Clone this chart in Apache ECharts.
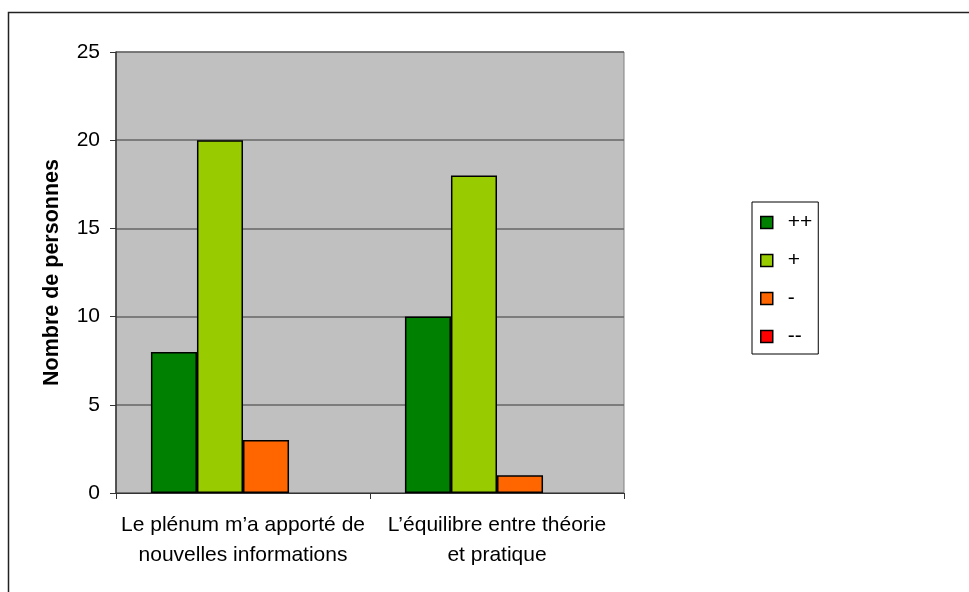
<!DOCTYPE html>
<html>
<head>
<meta charset="utf-8">
<script src="https://cdn.jsdelivr.net/npm/echarts@6/dist/echarts.min.js"></script>
<style>
  html, body { margin: 0; padding: 0; background: #fff; }
  #chart { width: 969px; height: 592px; }
</style>
</head>
<body>
<div id="chart"></div>
<script>
const categories = [
  'Le plénum m\u2019a apporté de\nnouvelles informations',
  'L\u2019équilibre entre théorie\net pratique'
]
const seriesNames = ['++', '+', '-', '--']
const seriesColors = ['#008000', '#99CC00', '#FF6600', '#FF0000']
const valuesPlusPlus = [8, 10]
const valuesPlus = [20, 18]
const valuesMinus = [3, 1]
const valuesMinusMinus = [0, 0]
const yTicks = { min: 0, max: 25, interval: 5 }

const chart = echarts.init(document.getElementById('chart'))
const font = 'Liberation Sans, Arial, sans-serif'

const seriesData = [valuesPlusPlus, valuesPlus, valuesMinus, valuesMinusMinus]

chart.setOption({
  animation: false,
  textStyle: { fontFamily: font },
  graphic: [
    {
      type: 'rect',
      shape: { x: 8.5, y: 12.5, width: 1000, height: 700 },
      style: { fill: 'none', stroke: '#222', lineWidth: 1.5 },
      silent: true
    }
  ],
  legend: {
    orient: 'vertical',
    left: 752,
    top: 202,
    data: seriesNames,
    itemWidth: 12,
    itemHeight: 12,
    itemGap: 17,
    padding: [10, 6, 7, 8],
    borderColor: '#000',
    borderWidth: 1,
    backgroundColor: '#fff',
    itemStyle: { borderColor: '#000', borderWidth: 1.5 },
    textStyle: { fontFamily: font, fontSize: 21, color: '#000', padding: [0, 0, 0, 10] },
    icon: 'rect'
  },
  grid: {
    left: 116,
    top: 52,
    width: 508,
    height: 441,
    show: true,
    backgroundColor: '#C0C0C0',
    borderColor: '#808080',
    borderWidth: 1
  },
  xAxis: {
    type: 'category',
    data: categories,
    axisLine: { lineStyle: { color: '#333', width: 1 } },
    axisTick: { show: true, interval: 0, length: 6, lineStyle: { color: '#333' } },
    axisLabel: {
      interval: 0,
      color: '#000',
      fontSize: 21,
      lineHeight: 30,
      margin: 17,
      fontFamily: font
    }
  },
  yAxis: {
    type: 'value',
    min: yTicks.min,
    max: yTicks.max,
    interval: yTicks.interval,
    name: 'Nombre de personnes',
    nameLocation: 'middle',
    nameGap: 53,
    nameTextStyle: { fontWeight: 'bold', fontSize: 21.5, color: '#000', fontFamily: font },
    axisLine: { show: true, lineStyle: { color: '#333', width: 1.5 } },
    axisTick: { show: true, length: 6, lineStyle: { color: '#333' } },
    axisLabel: { color: '#000', fontSize: 21, margin: 16, fontFamily: font },
    splitLine: { show: true, lineStyle: { color: '#666', width: 1.5 } }
  },
  series: seriesNames.map((name, i) => ({
    name,
    type: 'bar',
    data: seriesData[i],
    barGap: '0%',
    barCategoryGap: '27.5%',
    itemStyle: {
      color: seriesColors[i],
      borderColor: '#000',
      borderWidth: seriesData[i].some(v => v > 0) ? 1.5 : 0
    }
  }))
})
</script>
</body>
</html>
